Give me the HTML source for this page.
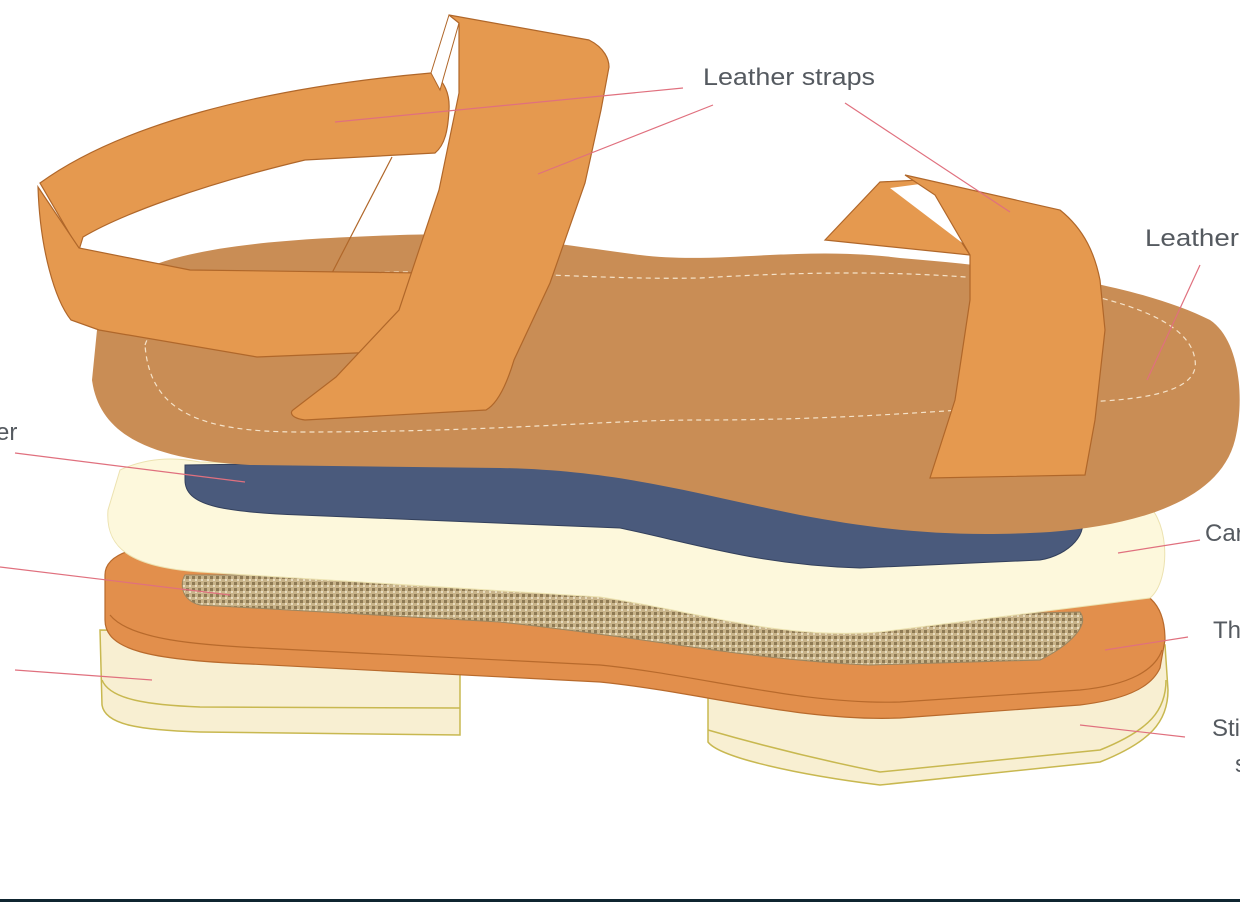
<!DOCTYPE html>
<html><head><style>
html,body{margin:0;padding:0;background:#fff;}
body{width:1240px;height:902px;overflow:hidden;position:relative;}
svg{position:absolute;left:0;top:0;}
text{font-family:"Liberation Sans",sans-serif;font-size:24px;fill:#555a60;}
</style></head><body>
<svg width="1240" height="902" viewBox="0 0 1240 902">
<defs>
<pattern id="cork" width="6" height="6" patternUnits="userSpaceOnUse">
<rect width="6" height="6" fill="#c9b48a"/>
<rect x="0" y="0" width="3" height="3" fill="#8e7a55"/>
<rect x="3" y="3" width="2" height="2" fill="#e8dcc0"/>
</pattern>
</defs>
<!-- bottom sole -->
<path d="M100,630 L102,705 C105,725 140,730 200,732 L460,735 L460,670 L708,685 L708,742 C720,758 800,775 880,785 L1100,762 C1150,742 1168,722 1168,690 L1165,645 Z" fill="#f8efd2" stroke="#c8b850" stroke-width="1.5"/>
<path d="M102,680 C110,700 150,705 200,707 L460,708 M708,730 C760,745 820,760 880,772 L1100,750 C1150,730 1166,710 1166,680" fill="none" stroke="#c8b850" stroke-width="1.5"/>
<!-- orange midsole -->
<path d="M105,575 C105,550 150,542 200,545 L500,558 C600,568 700,600 800,600 L1100,585 C1150,585 1165,605 1165,640 L1160,668 C1150,690 1120,700 1080,705 L900,718 C800,722 700,692 600,682 L250,664 C150,660 105,650 105,620 Z" fill="#e28f4c" stroke="#b86a2c" stroke-width="1.2"/>
<path d="M110,615 C130,640 200,645 260,648 L600,665 C700,675 800,705 900,702 L1080,690 C1130,685 1155,670 1162,650" fill="none" stroke="#b86a2c" stroke-width="1.2"/>
<!-- cork -->
<path d="M185,575 L500,575 C600,580 700,615 800,618 L1080,612 C1090,625 1070,645 1040,660 L870,665 C750,660 650,638 500,622 L200,605 C180,600 180,582 185,575Z" fill="url(#cork)" stroke="#9c8660"/>
<!-- cream layer -->
<path d="M120,470 C150,456 180,458 200,462 L560,470 C650,480 700,495 800,500 L1140,500 C1170,512 1172,580 1150,598 L880,632 C780,640 700,612 600,597 L200,572 C130,567 105,548 108,510 Z" fill="#fdf8dc" stroke="#ece2b0"/>
<!-- navy -->
<path d="M185,465 L400,462 C500,460 560,462 620,470 C700,480 750,505 850,510 L1080,515 C1090,532 1070,555 1040,560 L860,568 C760,565 700,545 620,528 L300,515 C220,512 185,505 185,480Z" fill="#4a5a7c" stroke="#33405c"/>
<!-- footbed -->
<path d="M100,300 C140,250 250,240 400,235 C500,232 560,245 640,255 C720,265 800,245 900,258 C1050,270 1150,290 1210,320 C1240,340 1245,400 1235,440 C1220,500 1140,525 1050,532 C950,538 880,530 800,515 C700,495 620,470 500,468 L250,465 C160,460 100,440 92,380 Z" fill="#c98d55"/>
<path d="M145,345 C160,300 250,275 400,272 C500,270 600,280 700,278 C800,272 900,270 1000,280 C1120,295 1190,320 1195,360 C1200,390 1150,400 1080,402 C950,410 850,420 700,420 C600,420 500,432 300,432 C200,432 150,412 145,345 Z" fill="none" stroke="#f5e2c8" stroke-width="1.2" stroke-dasharray="5,4"/>
<!-- back straps -->
<path d="M392,157 L332,273" stroke="#b0672a" stroke-width="1.2"/>
<path d="M40,183 C120,125 260,88 431,73 C445,80 450,95 449,110 C448,130 445,145 435,153 L305,160 C200,185 120,215 83,237 L79,250 Z" fill="#e5994f" stroke="#b0672a" stroke-width="1.2"/>
<path d="M38,187 C40,250 55,300 71,320 L99,330 L257,357 L380,352 C400,340 415,300 423,273 L190,270 L79,248 Z" fill="#e5994f" stroke="#b0672a" stroke-width="1.2"/>
<path d="M431,73 L449,15 L459,23 L440,90 Z" fill="#fff" stroke="#b0672a"/>
<path d="M449,15 L589,40 C605,48 609,60 609,67 L601,110 L585,183 L550,283 L514,360 C505,390 495,405 486,410 L305,420 C290,418 290,412 293,410 L336,377 L399,310 L439,190 L459,93 L459,23 Z" fill="#e5994f" stroke="#b0672a" stroke-width="1.2"/>
<!-- front strap -->
<path d="M825,240 L880,182 L920,180 L970,255 Z" fill="#e5994f" stroke="#b0672a" stroke-width="1.2"/>
<path d="M890,188 L950,180 L965,245 Z" fill="#fff"/>
<path d="M905,175 L1060,210 C1085,230 1095,255 1100,280 L1105,330 L1095,420 L1085,475 L930,478 L955,400 L970,300 L970,255 L935,195 Z" fill="#e5994f" stroke="#b0672a" stroke-width="1.2"/>
<!-- leader lines -->
<g stroke="#e0707e" stroke-width="1.2">
<line x1="335" y1="122" x2="683" y2="88"/>
<line x1="538" y1="174" x2="713" y2="105"/>
<line x1="845" y1="103" x2="1010" y2="212"/>
<line x1="1200" y1="265" x2="1147" y2="380"/>
<line x1="15" y1="453" x2="245" y2="482"/>
<line x1="0" y1="567" x2="230" y2="595"/>
<line x1="15" y1="670" x2="152" y2="680"/>
<line x1="1118" y1="553" x2="1200" y2="540"/>
<line x1="1105" y1="650" x2="1188" y2="637"/>
<line x1="1080" y1="725" x2="1185" y2="737"/>
</g>
<text x="703" y="85" textLength="172" lengthAdjust="spacingAndGlyphs">Leather straps</text>
<text x="1145" y="246" textLength="94" lengthAdjust="spacingAndGlyphs">Leather</text>
<text x="-4" y="440">er</text>
<text x="1205" y="541">Car</text>
<text x="1213" y="638">Th</text>
<text x="1212" y="736">Sti</text>
<text x="1235" y="772">s</text>
<rect x="0" y="899" width="1240" height="3" fill="#0f2530"/>
</svg>
</body></html>
